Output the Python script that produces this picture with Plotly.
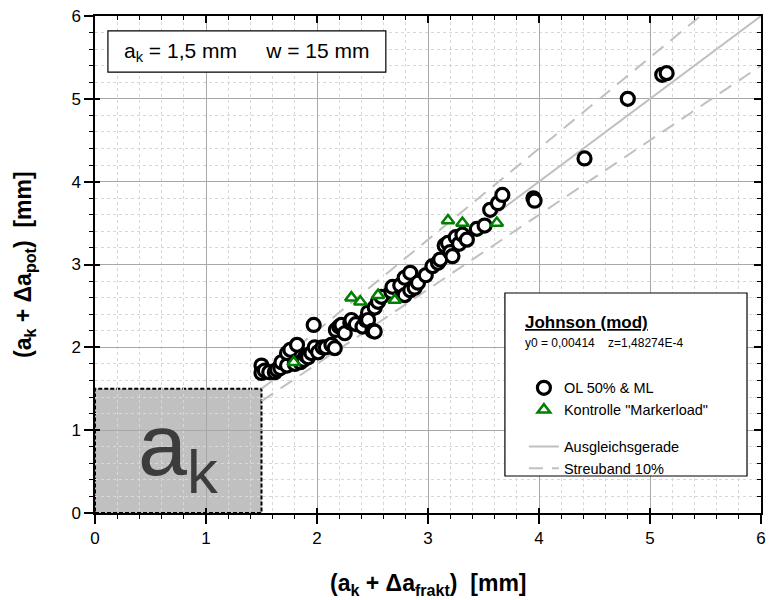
import plotly.graph_objects as go

# ---- data ----
circ_x = [1.50, 1.50, 1.53, 1.57, 1.62, 1.64, 1.67, 1.68, 1.73, 1.73, 1.76, 1.80, 1.82, 1.85,
          1.88, 1.90, 1.92, 1.95, 1.97, 1.98, 2.01, 2.05, 2.08, 2.13, 2.16, 2.17, 2.20, 2.22,
          2.25, 2.30, 2.31, 2.35, 2.41, 2.44, 2.46, 2.46, 2.50, 2.52, 2.52, 2.55, 2.58, 2.67,
          2.68, 2.75, 2.79, 2.79, 2.84, 2.84, 2.88, 2.91, 2.98, 3.04, 3.09, 3.11, 3.15, 3.18,
          3.20, 3.22, 3.25, 3.28, 3.31, 3.35, 3.44, 3.51, 3.56, 3.63, 3.67, 3.95, 3.96, 4.41,
          4.80, 5.11, 5.15]
circ_y = [1.78, 1.69, 1.72, 1.70, 1.70, 1.73, 1.75, 1.82, 1.78, 1.93, 1.97, 1.80, 2.03, 1.82,
          1.85, 1.90, 1.88, 1.93, 2.27, 2.00, 1.94, 2.00, 2.00, 2.03, 1.99, 2.21, 2.25, 2.27,
          2.17, 2.30, 2.33, 2.28, 2.25, 2.33, 2.42, 2.33, 2.20, 2.19, 2.48, 2.55, 2.61, 2.67,
          2.73, 2.75, 2.84, 2.63, 2.90, 2.69, 2.72, 2.78, 2.87, 2.98, 3.02, 3.06, 3.23, 3.26,
          3.15, 3.10, 3.33, 3.25, 3.36, 3.30, 3.43, 3.47, 3.66, 3.74, 3.84, 3.80, 3.77, 4.28,
          5.00, 5.29, 5.31]
tri_x = [1.79, 2.31, 2.39, 2.55, 2.70, 3.18, 3.31, 3.62]
tri_y = [1.82, 2.60, 2.55, 2.63, 2.57, 3.53, 3.50, 3.50]

a_k = 1.5            # notch depth [mm]
fit_x = [1.5, 6.0]   # Ausgleichsgerade y = x
band = 0.10          # Streuband 10 %
upper_x = [1.5, 6.0 / (1 + band)]
lower_x = [1.5, 6.0]

x_ticks = [0, 1, 2, 3, 4, 5, 6]
y_ticks = [0, 1, 2, 3, 4, 5, 6]

FONT = "Liberation Sans, Arial, sans-serif"
GRAY = "#c0c0c0"

fig = go.Figure()

# fit line and scatter band
fig.add_trace(go.Scatter(x=fit_x, y=fit_x, mode="lines", name="Ausgleichsgerade",
                         line=dict(color=GRAY, width=2), legendgroup="lines", legendrank=3))
fig.add_trace(go.Scatter(x=upper_x, y=[v * (1 + band) for v in upper_x], mode="lines",
                         name="Streuband 10%", legendgroup="lines", legendrank=4,
                         line=dict(color=GRAY, width=2, dash="14px,9px")))
fig.add_trace(go.Scatter(x=lower_x, y=[v * (1 - band) for v in lower_x], mode="lines",
                         name="Streuband 10%", legendgroup="lines", showlegend=False,
                         legendrank=5, line=dict(color=GRAY, width=2, dash="14px,9px")))

fig.add_trace(go.Scatter(x=circ_x, y=circ_y, mode="markers", name="OL 50% & ML",
                         legendgroup="pts", legendrank=1,
                         marker=dict(symbol="circle", size=13, color="white",
                                     line=dict(color="black", width=3.2))))
fig.add_trace(go.Scatter(x=tri_x, y=tri_y, mode="markers", name='Kontrolle "Markerload"',
                         legendgroup="pts", legendrank=2,
                         marker=dict(symbol="triangle-up", size=11, color="white",
                                     line=dict(color="#008000", width=2.5))))

# dummy traces for mirrored / crossing tick axes
fig.add_trace(go.Scatter(x=[None], y=[None], xaxis="x2", yaxis="y2", showlegend=False,
                         hoverinfo="skip"))
fig.add_trace(go.Scatter(x=[None], y=[None], xaxis="x3", yaxis="y3", showlegend=False,
                         hoverinfo="skip"))

common = dict(range=[0, 6], tickvals=x_ticks, showline=True, linecolor="black", linewidth=1.5,
              tickfont=dict(family=FONT, size=17, color="black"), zeroline=False)

fig.update_layout(
    width=771, height=600,
    margin=dict(l=95, r=5, t=16, b=87),
    paper_bgcolor="white", plot_bgcolor="white",
    font=dict(family=FONT, color="black"),
    xaxis=dict(**common, ticks="outside", ticklen=9, tickwidth=1.5, tickcolor="black",
               showgrid=True, gridcolor="#a8a8a8", gridwidth=1,
               minor=dict(dtick=0.2, ticks="outside", ticklen=4, tickwidth=1.2, tickcolor="black",
                          showgrid=True, gridcolor="#d8d8d8", griddash="dot", gridwidth=1)),
    yaxis=dict(**common, ticks="outside", ticklen=9, tickwidth=1.5, tickcolor="black",
               showgrid=True, gridcolor="#a8a8a8", gridwidth=1,
               minor=dict(dtick=0.2, ticks="outside", ticklen=4, tickwidth=1.2, tickcolor="black",
                          showgrid=True, gridcolor="#d8d8d8", griddash="dot", gridwidth=1)),
    xaxis2=dict(range=[0, 6], tickvals=x_ticks, overlaying="x", side="top", anchor="y2",
                showline=True, linecolor="black", linewidth=1.5, showgrid=False, zeroline=False,
                ticks="inside", ticklen=7, tickwidth=1.5, tickcolor="black", showticklabels=False,
                minor=dict(dtick=0.2, ticks="inside", ticklen=4, tickwidth=1.2, tickcolor="black")),
    yaxis2=dict(range=[0, 6], tickvals=y_ticks, overlaying="y", side="right", anchor="x2",
                showline=True, linecolor="black", linewidth=1.5, showgrid=False, zeroline=False,
                ticks="inside", ticklen=7, tickwidth=1.5, tickcolor="black", showticklabels=False,
                minor=dict(dtick=0.2, ticks="inside", ticklen=4, tickwidth=1.2, tickcolor="black")),
    xaxis3=dict(range=[0, 6], tickvals=x_ticks, overlaying="x", side="bottom", anchor="y3",
                showline=False, showgrid=False, zeroline=False,
                ticks="inside", ticklen=5, tickwidth=1.5, tickcolor="black", showticklabels=False),
    yaxis3=dict(range=[0, 6], tickvals=y_ticks, overlaying="y", side="left", anchor="x3",
                showline=False, showgrid=False, zeroline=False,
                ticks="inside", ticklen=5, tickwidth=1.5, tickcolor="black", showticklabels=False),
    showlegend=True,
    legend=dict(x=0.644, y=0.284, xanchor="left", yanchor="top",
                bgcolor="rgba(0,0,0,0)", borderwidth=0,
                font=dict(family=FONT, size=14.5, color="black"),
                traceorder="grouped", tracegroupgap=15, itemwidth=30),
)

# a_k region
fig.add_shape(type="rect", xref="x", yref="y", x0=0, y0=0, x1=a_k, y1=a_k,
              fillcolor=GRAY, line=dict(color="black", width=2, dash="4px,2px"), layer="below")
fig.add_annotation(x=a_k / 2, y=a_k / 2, xref="x", yref="y", text="a<sub>k</sub>",
                   showarrow=False, font=dict(family=FONT, size=88, color="#3c3c3c"),
                   xanchor="center", yanchor="middle")

# info box top-left
fig.add_shape(type="rect", xref="paper", yref="paper", x0=0.0194, x1=0.4367, y0=0.887, y1=0.970,
              fillcolor="white", line=dict(color="black", width=1.2), layer="above")
fig.add_annotation(x=(0.0194 + 0.4367) / 2, y=(0.887 + 0.970) / 2, xref="paper", yref="paper",
                   text="a<sub>k</sub> = 1,5 mm \u00a0\u00a0\u00a0 w = 15 mm", showarrow=False,
                   font=dict(family=FONT, size=21, color="black"),
                   xanchor="center", yanchor="middle")

# legend frame with header
fig.add_shape(type="rect", xref="paper", yref="paper", x0=0.6155, x1=0.979, y0=0.0744, y1=0.4427,
              fillcolor="white", line=dict(color="black", width=1.2), layer="above")
fig.add_annotation(x=(526 - 95) / 671, y=(513 - 322) / 497, xref="paper", yref="paper",
                   text="<b><u>Johnson (mod)</u></b>", showarrow=False,
                   font=dict(family=FONT, size=17, color="black"),
                   xanchor="left", yanchor="middle")
fig.add_annotation(x=(526 - 95) / 671, y=(513 - 343) / 497, xref="paper", yref="paper",
                   text="y0 = 0,00414 \u00a0\u00a0 z=1,48274E-4", showarrow=False,
                   font=dict(family=FONT, size=12, color="black"),
                   xanchor="left", yanchor="middle")

# axis titles
fig.add_annotation(x=0.5, y=(513 - 584) / 497, xref="paper", yref="paper",
                   text="<b>(a<sub>k</sub> + Δa<sub>frakt</sub>) \u00a0[mm]</b>", showarrow=False,
                   font=dict(family=FONT, size=23, color="black"),
                   xanchor="center", yanchor="middle")
fig.add_annotation(x=(24 - 95) / 671, y=0.5, xref="paper", yref="paper",
                   text="<b>(a<sub>k</sub> + Δa<sub>pot</sub>) \u00a0[mm]</b>", showarrow=False,
                   textangle=-90, font=dict(family=FONT, size=23, color="black"),
                   xanchor="center", yanchor="middle")

fig.write_html("out.html")
